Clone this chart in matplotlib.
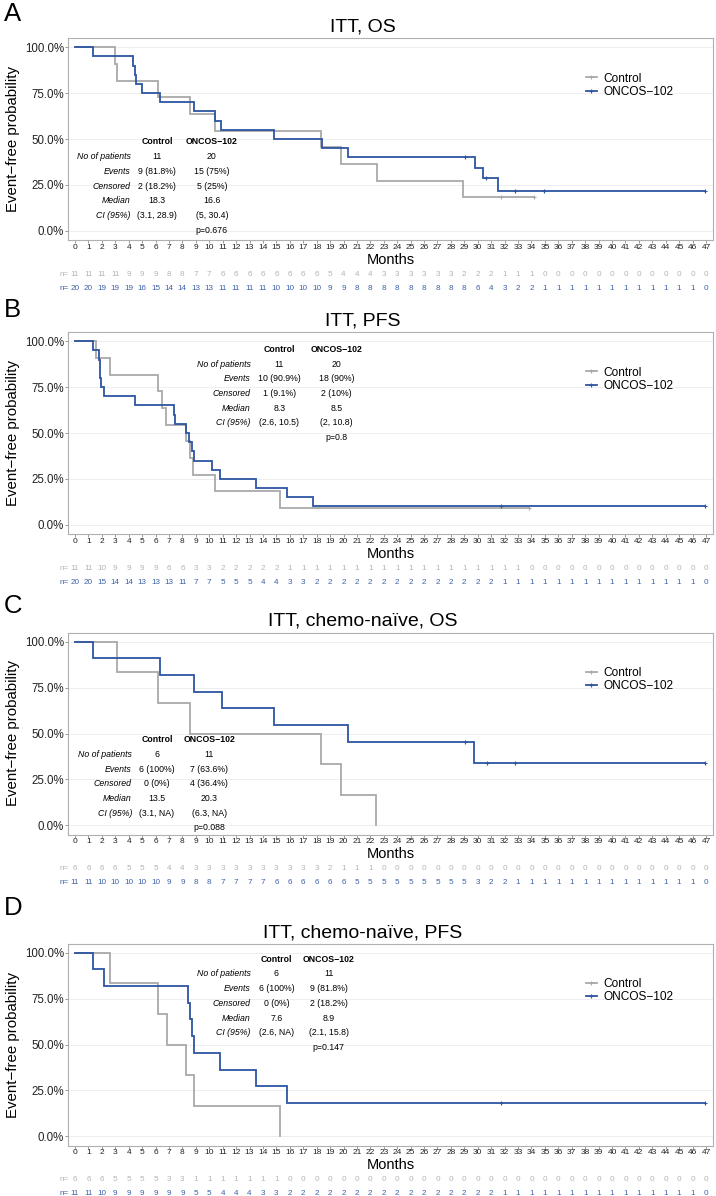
import matplotlib
matplotlib.use("Agg")
import matplotlib.pyplot as plt
import matplotlib.transforms as mtransforms
from matplotlib.lines import Line2D

plt.rcParams['font.family'] = ['Liberation Sans', 'DejaVu Sans']

W, H = 716, 1196
months = list(range(48))
groups = ["Control", "ONCOS\u2212102"]
row_labels = ["No of patients", "Events", "Censored", "Median", "CI (95%)"]

# --- A: ITT, OS ---
a_ctrl_events = [3.0, 3.1, 6.2, 8.6, 10.4, 18.3, 19.8, 22.5, 28.9]
a_ctrl_censor = [31.7, 34.2]
a_onc_events = [1.35, 4.3, 4.45, 4.55, 5.0, 6.3, 8.9, 10.4, 10.9, 14.85, 18.4, 20.3, 29.8, 30.4, 31.5]
a_onc_censor = [29.05, 30.6, 32.8, 34.9, 46.9]
a_ctrl_risk = [11, 11, 11, 11, 9, 9, 9, 8, 8, 7, 7, 6, 6, 6, 6, 6, 6, 6, 6, 5, 4, 4, 4, 3,
               3, 3, 3, 3, 3, 2, 2, 2, 1, 1, 1, 0, 0, 0, 0, 0, 0, 0, 0, 0, 0, 0, 0, 0]
a_onc_risk = [20, 20, 19, 19, 19, 16, 15, 14, 14, 13, 13, 11, 11, 11, 11, 10, 10, 10, 10, 9, 9, 8, 8, 8,
              8, 8, 8, 8, 8, 8, 6, 4, 3, 2, 2, 1, 1, 1, 1, 1, 1, 1, 1, 1, 1, 1, 1, 0]
a_ctrl_stats = ["11", "9 (81.8%)", "2 (18.2%)", "18.3", "(3.1, 28.9)"]
a_onc_stats = ["20", "15 (75%)", "5 (25%)", "16.6", "(5, 30.4)"]
a_pval = "p=0.676"

# --- B: ITT, PFS ---
b_ctrl_events = [1.53, 2.6, 6.2, 6.45, 6.8, 8.3, 8.6, 8.8, 10.4, 15.25]
b_ctrl_censor = [33.8]
b_onc_events = [1.36, 1.8, 1.85, 1.9, 1.97, 2.15, 4.5, 7.4, 7.45, 8.3, 8.5, 8.7, 8.85,
                10.2, 10.8, 13.45, 15.8, 17.7]
b_onc_censor = [31.7, 46.9]
b_ctrl_risk = [11, 11, 10, 9, 9, 9, 9, 6, 6, 3, 3, 2, 2, 2, 2, 2, 1, 1, 1, 1, 1, 1, 1, 1,
               1, 1, 1, 1, 1, 1, 1, 1, 1, 1, 0, 0, 0, 0, 0, 0, 0, 0, 0, 0, 0, 0, 0, 0]
b_onc_risk = [20, 20, 15, 14, 14, 13, 13, 13, 11, 7, 7, 5, 5, 5, 4, 4, 3, 3, 2, 2, 2, 2, 2, 2,
              2, 2, 2, 2, 2, 2, 2, 2, 1, 1, 1, 1, 1, 1, 1, 1, 1, 1, 1, 1, 1, 1, 1, 0]
b_ctrl_stats = ["11", "10 (90.9%)", "1 (9.1%)", "8.3", "(2.6, 10.5)"]
b_onc_stats = ["20", "18 (90%)", "2 (10%)", "8.5", "(2, 10.8)"]
b_pval = "p=0.8"

# --- C: ITT, chemo-naive, OS ---
c_ctrl_events = [3.1, 6.2, 8.6, 18.3, 19.8, 22.45]
c_ctrl_censor = []
c_onc_events = [1.36, 6.35, 8.9, 10.95, 14.85, 20.3, 29.75]
c_onc_censor = [29.05, 30.7, 32.8, 46.9]
c_ctrl_risk = [6, 6, 6, 6, 5, 5, 5, 4, 4, 3, 3, 3, 3, 3, 3, 3, 3, 3, 3, 2, 1, 1, 1, 0,
               0, 0, 0, 0, 0, 0, 0, 0, 0, 0, 0, 0, 0, 0, 0, 0, 0, 0, 0, 0, 0, 0, 0, 0]
c_onc_risk = [11, 11, 10, 10, 10, 10, 10, 9, 9, 8, 8, 7, 7, 7, 7, 6, 6, 6, 6, 6, 6, 5, 5, 5,
              5, 5, 5, 5, 5, 5, 3, 2, 2, 1, 1, 1, 1, 1, 1, 1, 1, 1, 1, 1, 1, 1, 1, 0]
c_ctrl_stats = ["6", "6 (100%)", "0 (0%)", "13.5", "(3.1, NA)"]
c_onc_stats = ["11", "7 (63.6%)", "4 (36.4%)", "20.3", "(6.3, NA)"]
c_pval = "p=0.088"

# --- D: ITT, chemo-naive, PFS ---
d_ctrl_events = [2.6, 6.2, 6.85, 8.3, 8.85, 15.25]
d_ctrl_censor = []
d_onc_events = [1.36, 2.14, 8.4, 8.6, 8.75, 8.9, 10.8, 13.45, 15.8]
d_onc_censor = [31.7, 46.9]
d_ctrl_risk = [6, 6, 6, 5, 5, 5, 5, 3, 3, 1, 1, 1, 1, 1, 1, 1, 0, 0, 0, 0, 0, 0, 0, 0,
               0, 0, 0, 0, 0, 0, 0, 0, 0, 0, 0, 0, 0, 0, 0, 0, 0, 0, 0, 0, 0, 0, 0, 0]
d_onc_risk = [11, 11, 10, 9, 9, 9, 9, 9, 9, 5, 5, 4, 4, 4, 3, 3, 2, 2, 2, 2, 2, 2, 2, 2,
              2, 2, 2, 2, 2, 2, 2, 2, 1, 1, 1, 1, 1, 1, 1, 1, 1, 1, 1, 1, 1, 1, 1, 0]
d_ctrl_stats = ["6", "6 (100%)", "0 (0%)", "7.6", "(2.6, NA)"]
d_onc_stats = ["11", "9 (81.8%)", "2 (18.2%)", "8.9", "(2.1, 15.8)"]
d_pval = "p=0.147"

GRAY = "#a9a9a9"
BLUE = "#2c55a2"
RISK_GRAY = "#b4b4b4"
RISK_BLUE = "#3d62a8"


def km_steps(events, censors):
    pts = sorted([(t, 1) for t in events] + [(t, 0) for t in censors])
    n = len(pts)
    s = 1.0
    xs, ys, cx, cy = [0.0], [1.0], [], []
    for t, ev in pts:
        if ev:
            s *= (n - 1) / n
            xs.append(t)
            ys.append(s)
        else:
            cx.append(t)
            cy.append(s)
        n -= 1
    if pts[-1][1] == 0:
        xs.append(pts[-1][0])
        ys.append(s)
    return xs, ys, cx, cy


# panel: letter, title, data, axes top (px), letter y (px), table anchor (label x, ctrl x, onc x, header y)
panels = [
    ("A", "ITT, OS", a_ctrl_events, a_ctrl_censor, a_onc_events, a_onc_censor,
     a_ctrl_risk, a_onc_risk, a_ctrl_stats, a_onc_stats, a_pval, 38, 14, (4.15, 6.1, 10.2, 0.484)),
    ("B", "ITT, PFS", b_ctrl_events, b_ctrl_censor, b_onc_events, b_onc_censor,
     b_ctrl_risk, b_onc_risk, b_ctrl_stats, b_onc_stats, b_pval, 332, 310, (13.1, 15.23, 19.46, 0.955)),
    ("C", "ITT, chemo-na\u00efve, OS", c_ctrl_events, c_ctrl_censor, c_onc_events, c_onc_censor,
     c_ctrl_risk, c_onc_risk, c_ctrl_stats, c_onc_stats, c_pval, 632.5, 606, (4.24, 6.1, 10.0, 0.466)),
    ("D", "ITT, chemo-na\u00efve, PFS", d_ctrl_events, d_ctrl_censor, d_onc_events, d_onc_censor,
     d_ctrl_risk, d_onc_risk, d_ctrl_stats, d_onc_stats, d_pval, 943.5, 907.6, (13.08, 15.0, 18.9, 0.964)),
]

fig = plt.figure(figsize=(W / 100, H / 100), dpi=100)
AX_L, AX_R, AX_H = 68, 713, 202


def fy(px):
    return 1 - px / H


for (letter, title, ce, cc, oe, oc, crisk, orisk, cstats, ostats, pval,
     top, letter_y, (tx_lab, tx_c, tx_o, ty)) in panels:
    bottom = top + AX_H
    ax = fig.add_axes([AX_L / W, fy(bottom), (AX_R - AX_L) / W, AX_H / H])

    for ev, ce_, color in [(ce, cc, GRAY), (oe, oc, BLUE)]:
        xs, ys, cx, cy = km_steps(ev, ce_)
        ax.step(xs, ys, where="post", color=color, lw=1.3, solid_joinstyle="miter")
        ax.plot(cx, cy, "+", color=color, ms=3.5, mew=0.8)

    ax.set_xlim(-0.52, 47.52)
    ax.set_ylim(-0.05, 1.05)
    ax.set_xticks(months)
    ax.set_xticklabels([str(m) for m in months], fontsize=6.0, color="#222222")
    ax.set_yticks([0, 0.25, 0.5, 0.75, 1.0])
    ax.set_yticklabels(["0.0%", "25.0%", "50.0%", "75.0%", "100.0%"], fontsize=8.3, color="#222222")
    ax.tick_params(axis="x", length=2, width=0.6, color="#888888", pad=0.8)
    ax.tick_params(axis="y", length=2, width=0.6, color="#888888", pad=1)
    ax.yaxis.grid(True, color="#ebebeb", lw=0.6)
    ax.set_axisbelow(True)
    for sp in ax.spines.values():
        sp.set_color("#b0b0b0")
        sp.set_linewidth(0.8)

    # legend
    handles = [Line2D([], [], color=GRAY, lw=1.3, marker="+", ms=3.5, mew=0.8),
               Line2D([], [], color=BLUE, lw=1.3, marker="+", ms=3.5, mew=0.8)]
    ax.legend(handles, groups, loc="center left", bbox_to_anchor=(0.803, 0.766),
              frameon=False, fontsize=8.6, handlelength=0.9, handletextpad=0.6,
              labelspacing=0.1, borderpad=0, borderaxespad=0)

    # summary table
    step = 0.08
    fs = 6.3
    ax.text(tx_c, ty, groups[0], ha="center", va="center", fontsize=fs, fontweight="bold")
    ax.text(tx_o, ty, groups[1], ha="center", va="center", fontsize=fs, fontweight="bold")
    for i, lab in enumerate(row_labels):
        yy = ty - step * (i + 1)
        ax.text(tx_lab, yy, lab, ha="right", va="center", fontsize=fs, style="italic")
        ax.text(tx_c, yy, cstats[i], ha="center", va="center", fontsize=fs)
        ax.text(tx_o, yy, ostats[i], ha="center", va="center", fontsize=fs)
    ax.text(tx_o, ty - step * 6, pval, ha="center", va="center", fontsize=fs, clip_on=False)

    # titles and labels
    fig.text(4 / W, fy(letter_y), letter, fontsize=18.5, ha="left", va="center")
    fig.text(363 / W, fy(top - 11), title, fontsize=14, ha="center", va="center")
    fig.text((AX_L + AX_R) / 2 / W, fy(bottom + 19.7), "Months", fontsize=10.5,
             ha="center", va="center")
    fig.text(13.4 / W, fy(top + AX_H / 2), "Event\u2212free probability", fontsize=10.8,
             rotation=90, ha="center", va="center")

    # number at risk
    tr = mtransforms.blended_transform_factory(ax.transData, fig.transFigure)
    for risk, color, dy in [(crisk, RISK_GRAY, 34), (orisk, RISK_BLUE, 48)]:
        yy = fy(bottom + dy)
        for m, v in zip(months, risk):
            ax.text(m, yy, str(v), transform=tr, ha="center", va="center",
                    fontsize=5.9, color=color, clip_on=False)
        ax.text(-0.45, yy, "n=", transform=tr, ha="right", va="center",
                fontsize=5.9, color=color, clip_on=False)

fig.savefig("out.png", dpi=100)
